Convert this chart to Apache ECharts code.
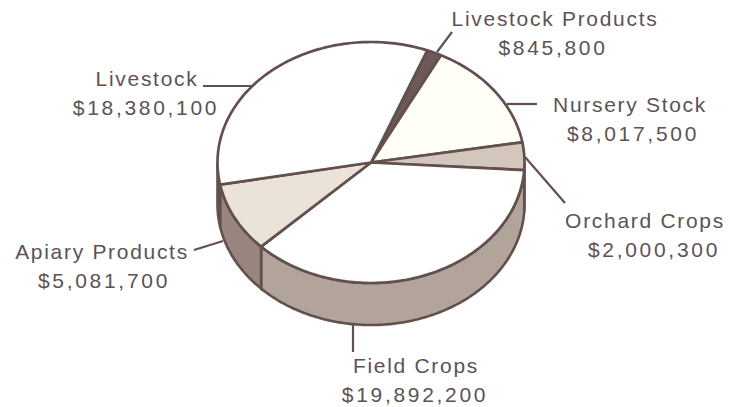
<!DOCTYPE html>
<html><head><meta charset="utf-8">
<style>
html,body{margin:0;padding:0;background:#fff}
#c{width:730px;height:407px}
#c svg text{letter-spacing:1.7px}
</style>
<script src="https://cdn.jsdelivr.net/npm/echarts@6/dist/echarts.min.js"></script>
</head><body><div id="c"></div>
<script>
const categories=["Livestock Products","Nursery Stock","Orchard Crops","Field Crops","Apiary Products","Livestock"];
const values=[845800,8017500,2000300,19892200,5081700,18380100];
const valueLabels=["$845,800","$8,017,500","$2,000,300","$19,892,200","$5,081,700","$18,380,100"];
const topColors=["#6d5957","#fffef7","#d3c7bd","#ffffff","#ebe3d9","#ffffff"];
const wallColors=["#b2a49b","#b2a49b","#b2a49b","#b2a49b","#98857d","#98857d"];
const nameX=[555,630,645,416,102,147];
const amountX=[553,633,654,415,104,146];
const labelY=[18,104,220,365,251,78];
const leaders=[[[452,32],[437,52]],[[507,104],[537,104]],[[525,157],[565,203]],[[353,325],[353,352]],[[194,250],[223,241]],[[203,86],[252,86]]];

const cx=371,cy=162.5,rx=153.5,ry=120.5,depth=42,start=21.5;
const ink="#63504e";
const total=values.reduce((a,b)=>a+b,0);
const edges=[start];
values.forEach(v=>edges.push(edges[edges.length-1]+v/total*360));
const pt=(deg,dy=0)=>{const r=deg*Math.PI/180;return [cx+rx*Math.sin(r),cy-ry*Math.cos(r)+dy];};
const arc=(a,b,dy=0)=>{const n=Math.max(2,Math.ceil(Math.abs(b-a)));const o=[];for(let i=0;i<=n;i++)o.push(pt(a+(b-a)*i/n,dy));return o;};
const seriesData=values.map((v,i)=>({name:categories[i],value:[v,i]}));

function renderWall(params,api){
  const i=api.value(1);
  // visible front of the cylinder lies between 90 and 270 degrees
  const a=Math.max(edges[i],90),b=Math.min(edges[i+1],270);
  if(b<=a)return {type:'group',children:[]};
  const pts=arc(a,b).concat(arc(b,a,depth));
  return {type:'polygon',shape:{points:pts},style:{fill:wallColors[i],stroke:ink,lineWidth:2.6}};
}
function renderTop(params,api){
  const i=api.value(1);
  const pts=[[cx,cy]].concat(arc(edges[i],edges[i+1]));
  return {type:'polygon',shape:{points:pts},style:{fill:topColors[i],stroke:ink,lineWidth:2.7,lineJoin:'round'}};
}
function renderLabel(params,api){
  const i=api.value(1);
  const font='400 21px "Liberation Sans",Arial,sans-serif';
  const txt=(t,x,y)=>({type:'text',style:{x:x,y:y,text:t,fill:"#5e5252",font:font,textAlign:'center',textVerticalAlign:'middle'}});
  return {type:'group',children:[
    {type:'line',shape:{x1:leaders[i][0][0],y1:leaders[i][0][1],x2:leaders[i][1][0],y2:leaders[i][1][1]},style:{stroke:ink,lineWidth:2.2}},
    txt(categories[i],nameX[i],labelY[i]),
    txt(valueLabels[i],amountX[i],labelY[i]+29)
  ]};
}
const chart=echarts.init(document.getElementById('c'),null,{renderer:'svg',width:730,height:407});
const base={type:'custom',coordinateSystem:'none',data:seriesData,silent:true,animation:false,clip:false};
chart.setOption({
  backgroundColor:'#ffffff',animation:false,
  series:[
    Object.assign({},base,{renderItem:renderLabel,z:1,encode:{value:0}}),
    Object.assign({},base,{renderItem:renderWall,z:2,encode:{value:0}}),
    Object.assign({},base,{renderItem:renderTop,z:3,encode:{value:0}})
  ]
});
// dollar amounts are set wider in the reference than the names
document.querySelectorAll('#c svg text').forEach(t=>{
  if(t.textContent.trim().charAt(0)==='$')t.style.letterSpacing='2.7px';
});
</script></body></html>
